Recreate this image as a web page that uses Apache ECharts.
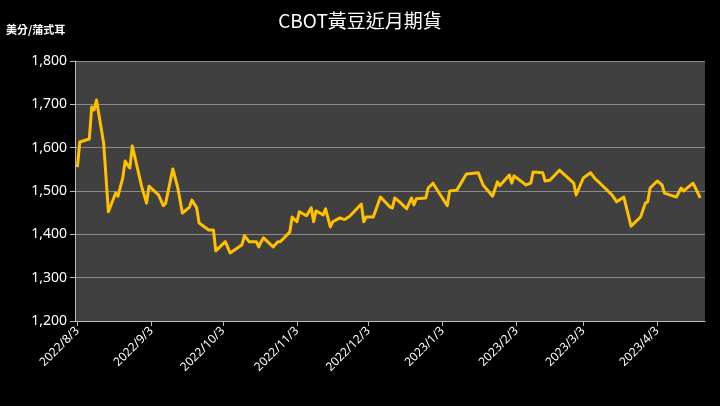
<!DOCTYPE html>
<html><head><meta charset="utf-8">
<script src="https://cdn.jsdelivr.net/npm/echarts@6/dist/echarts.min.js"></script>
<style>html,body{margin:0;background:#000}#c{width:720px;height:406px}</style></head>
<body><div id="c"></div>
<script>
const dates = ['2022-08-03','2022-08-04','2022-08-08','2022-08-09','2022-08-10','2022-08-11','2022-08-14','2022-08-16','2022-08-19','2022-08-20','2022-08-22','2022-08-23','2022-08-25','2022-08-26','2022-08-30','2022-09-01','2022-09-02','2022-09-06','2022-09-08','2022-09-09','2022-09-12','2022-09-14','2022-09-16','2022-09-19','2022-09-20','2022-09-22','2022-09-23','2022-09-27','2022-09-29','2022-09-30','2022-10-04','2022-10-06','2022-10-11','2022-10-12','2022-10-14','2022-10-17','2022-10-18','2022-10-19','2022-10-20','2022-10-24','2022-10-26','2022-10-27','2022-10-31','2022-11-01','2022-11-03','2022-11-04','2022-11-07','2022-11-09','2022-11-10','2022-11-11','2022-11-14','2022-11-15','2022-11-17','2022-11-18','2022-11-21','2022-11-23','2022-11-25','2022-11-30','2022-12-01','2022-12-02','2022-12-05','2022-12-08','2022-12-12','2022-12-13','2022-12-14','2022-12-16','2022-12-19','2022-12-21','2022-12-22','2022-12-23','2022-12-27','2022-12-28','2022-12-30','2023-01-05','2023-01-06','2023-01-09','2023-01-13','2023-01-18','2023-01-20','2023-01-24','2023-01-26','2023-01-27','2023-01-31','2023-02-01','2023-02-02','2023-02-07','2023-02-09','2023-02-10','2023-02-14','2023-02-15','2023-02-17','2023-02-21','2023-02-27','2023-02-28','2023-03-03','2023-03-06','2023-03-08','2023-03-10','2023-03-15','2023-03-17','2023-03-20','2023-03-23','2023-03-27','2023-03-29','2023-03-30','2023-03-31','2023-04-03','2023-04-05','2023-04-06','2023-04-11','2023-04-13','2023-04-14','2023-04-18','2023-04-19','2023-04-21'];
const prices = [1555,1613,1620,1694,1687,1710,1611,1452,1495,1488,1530,1569,1553,1604,1509,1472,1511,1491,1466,1472,1551,1509,1449,1463,1479,1461,1426,1410,1410,1362,1383,1357,1376,1397,1383,1383,1371,1383,1392,1371,1383,1383,1405,1440,1429,1452,1443,1461,1429,1454,1445,1459,1417,1429,1438,1434,1441,1470,1429,1440,1440,1486,1463,1461,1484,1475,1459,1484,1468,1482,1484,1507,1518,1466,1500,1502,1539,1542,1514,1488,1521,1512,1537,1518,1535,1514,1518,1544,1542,1523,1525,1548,1518,1491,1530,1542,1528,1518,1491,1475,1486,1419,1440,1472,1475,1507,1523,1514,1495,1486,1507,1500,1518,1507,1484];
const axisStart = '2022-08-02', axisEnd = '2023-04-23';
const tickDay = 3;

const key = (y,m,d) => y + '-' + String(m).padStart(2,'0') + '-' + String(d).padStart(2,'0');
const cats = [];
{
  let [y,m,d] = axisStart.split('-').map(Number);
  let t = new Date(y, m-1, d, 12);
  while (true) {
    const k = key(t.getFullYear(), t.getMonth()+1, t.getDate());
    cats.push(k);
    if (k === axisEnd) break;
    t.setDate(t.getDate() + 1);
  }
}
const priceMap = {};
dates.forEach((d,i) => priceMap[d] = prices[i]);
const seriesData = cats.map(c => priceMap[c] !== undefined ? priceMap[c] : null);
const isTick = (i) => Number(cats[i].split('-')[2]) === tickDay;
const label = c => { const [y,m,d] = c.split('-').map(Number); return y + '/' + m + '/' + d; };

const chart = echarts.init(document.getElementById('c'));
chart.setOption({
  backgroundColor: '#000',
  animation: false,
  title: { text: 'CBOT黃豆近月期貨', left: 'center', top: 6, textStyle: { color: '#fff', fontSize: 19, fontWeight: 'normal', fontFamily: 'Noto Sans CJK TC' } },
  graphic: [{ type: 'text', left: 6, top: 24, style: { text: '美分/蒲式耳', fill: '#fff', font: 'bold 11px "Noto Sans CJK TC"' } }],
  grid: { left: 75, right: 15, top: 61, bottom: 85, show: true, backgroundColor: '#404040', borderWidth: 0 },
  xAxis: {
    type: 'category', data: cats, boundaryGap: false,
    axisLine: { lineStyle: { color: '#bbb' } },
    axisTick: { interval: isTick, alignWithLabel: true, lineStyle: { color: '#bbb' }, length: 5 },
    axisLabel: { interval: isTick, rotate: 45, color: '#fff', fontSize: 12, fontFamily: 'Noto Sans', formatter: label },
    splitLine: { show: false }
  },
  yAxis: {
    type: 'value', min: 1200, max: 1800, interval: 100,
    axisLine: { show: true, lineStyle: { color: '#bbb' } },
    axisTick: { show: true, lineStyle: { color: '#bbb' } },
    axisLabel: { color: '#fff', fontSize: 14, fontFamily: 'Noto Sans', formatter: v => v.toLocaleString('en-US') },
    splitLine: { lineStyle: { color: '#8a8a8a', width: 1 } }
  },
  series: [{ type: 'line', data: seriesData, connectNulls: true, showSymbol: false,
    lineStyle: { color: '#FFC000', width: 3, join: 'round' }, itemStyle: { color: '#FFC000' } }]
});
</script></body></html>
